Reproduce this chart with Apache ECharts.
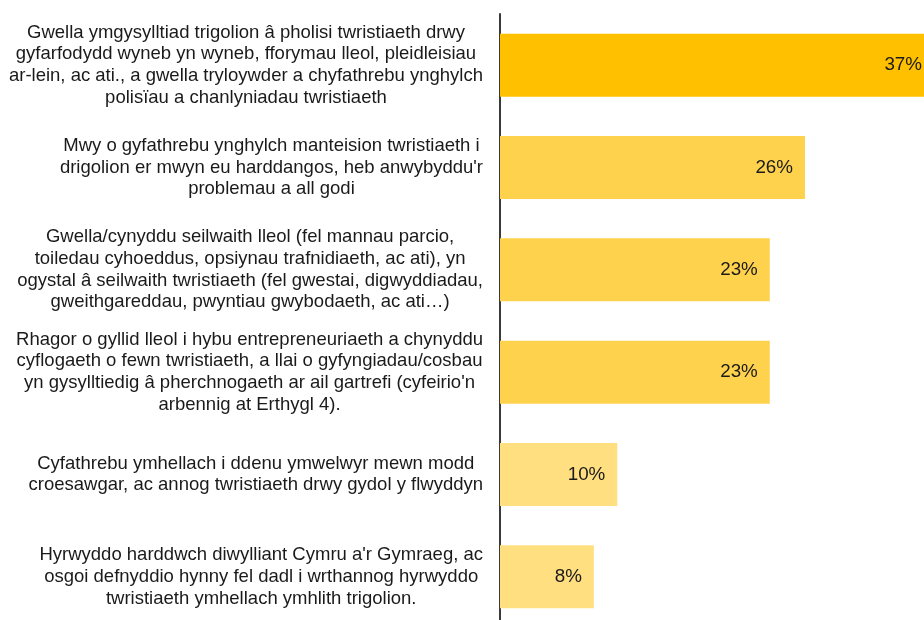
<!DOCTYPE html>
<html>
<head>
<meta charset="utf-8">
<script src="https://cdn.jsdelivr.net/npm/echarts@6/dist/echarts.min.js"></script>
<style>
  html, body { margin: 0; padding: 0; background: #fff; }
  #chart { width: 924px; height: 620px; }
</style>
</head>
<body>
<div id="chart"></div>
<script>
var categories = [
    'Gwella ymgysylltiad trigolion â pholisi twristiaeth drwy\ngyfarfodydd wyneb yn wyneb, fforymau lleol, pleidleisiau\nar-lein, ac ati., a gwella tryloywder a chyfathrebu ynghylch\npolisïau a chanlyniadau twristiaeth',
    'Mwy o gyfathrebu ynghylch manteision twristiaeth i\ndrigolion er mwyn eu harddangos, heb anwybyddu\'r\nproblemau a all godi',
    'Gwella/cynyddu seilwaith lleol (fel mannau parcio,\ntoiledau cyhoeddus, opsiynau trafnidiaeth, ac ati), yn\nogystal â seilwaith twristiaeth (fel gwestai, digwyddiadau,\ngweithgareddau, pwyntiau gwybodaeth, ac ati…)',
    'Rhagor o gyllid lleol i hybu entrepreneuriaeth a chynyddu\ncyflogaeth o fewn twristiaeth, a llai o gyfyngiadau/cosbau\nyn gysylltiedig â pherchnogaeth ar ail gartrefi (cyfeirio\'n\narbennig at Erthygl 4).',
    'Cyfathrebu ymhellach i ddenu ymwelwyr mewn modd\ncroesawgar, ac annog twristiaeth drwy gydol y flwyddyn',
    'Hyrwyddo harddwch diwylliant Cymru a\'r Gymraeg, ac\nosgoi defnyddio hynny fel dadl i wrthannog hyrwyddo\ntwristiaeth ymhellach ymhlith trigolion.'
];
var values = [37, 26, 23, 23, 10, 8];
var barColors = ['#FFC000', '#FFD24D', '#FFD24D', '#FFD24D', '#FFDF80', '#FFDF80'];

var dom = document.getElementById('chart');
var myChart = echarts.init(dom);

var seriesData = values.map(function (v, i) {
    return { value: v, itemStyle: { color: barColors[i] } };
});

var option = {
    animation: false,
    textStyle: { fontFamily: '"Liberation Sans", Arial, sans-serif' },
    grid: {
        left: 500,
        right: -10,
        top: 14,
        bottom: -8,
        containLabel: false,
        outerBoundsMode: 'none'
    },
    xAxis: {
        type: 'value',
        min: 0,
        max: 37,
        show: false
    },
    yAxis: {
        type: 'category',
        inverse: true,
        data: categories,
        axisLine: { show: true, lineStyle: { color: '#3a3a3a', width: 2 } },
        axisTick: { show: false },
        axisLabel: {
            margin: 17,
            align: 'right',
            formatter: function (txt) {
                // centre each line inside the right-aligned block
                return txt.split('\n').map(function (l) { return '{c|' + l + '}'; }).join('\n');
            },
            rich: {
                c: {
                    align: 'center',
                    fontSize: 18.5,
                    lineHeight: 21.7,
                    color: '#1a1a1a',
                    fontFamily: '"Liberation Sans", Arial, sans-serif'
                }
            }
        }
    },
    series: [{
        type: 'bar',
        data: seriesData,
        barWidth: 63,
        label: {
            show: true,
            position: 'insideRight',
            distance: 12,
            formatter: '{c}%',
            fontSize: 18.8,
            color: '#1a1a1a'
        }
    }]
};
myChart.setOption(option);
</script>
</body>
</html>
